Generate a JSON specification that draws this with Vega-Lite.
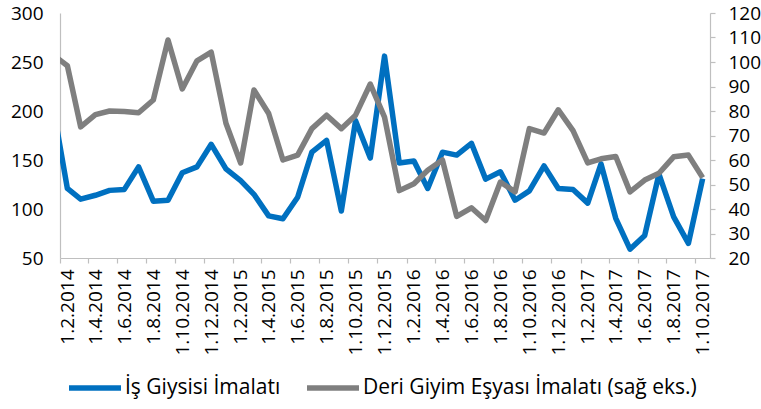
{
  "$schema": "https://vega.github.io/schema/vega-lite/v6.json",
  "width": 650,
  "height": 245,
  "autosize": "none",
  "padding": {"left": 60, "top": 13, "right": 51, "bottom": 151},
  "background": "white",
  "config": {
    "view": {"stroke": null},
    "font": "Open Sans",
    "axis": {"labelFont": "Open Sans", "labelColor": "#000000", "domainColor": "#BFBFBF", "tickColor": "#BFBFBF", "grid": false, "title": null, "labelFontSize": 19, "domainWidth": 1.2, "tickWidth": 1.2}
  },
  "data": {"values": [
    {"date": "2014-01-01", "is": 207, "deri": 103},
    {"date": "2014-02-01", "is": 121, "deri": 98.5},
    {"date": "2014-03-01", "is": 110, "deri": 73.5},
    {"date": "2014-04-01", "is": 114, "deri": 78.5},
    {"date": "2014-05-01", "is": 119, "deri": 80},
    {"date": "2014-06-01", "is": 120, "deri": 79.8},
    {"date": "2014-07-01", "is": 143, "deri": 79.3},
    {"date": "2014-08-01", "is": 108, "deri": 84.5},
    {"date": "2014-09-01", "is": 109, "deri": 109},
    {"date": "2014-10-01", "is": 137, "deri": 89},
    {"date": "2014-11-01", "is": 143, "deri": 100.5},
    {"date": "2014-12-01", "is": 166, "deri": 104},
    {"date": "2015-01-01", "is": 141, "deri": 75},
    {"date": "2015-02-01", "is": 129, "deri": 58.8},
    {"date": "2015-03-01", "is": 115, "deri": 88.6},
    {"date": "2015-04-01", "is": 93, "deri": 79},
    {"date": "2015-05-01", "is": 90, "deri": 60},
    {"date": "2015-06-01", "is": 112, "deri": 62},
    {"date": "2015-07-01", "is": 158, "deri": 72.8},
    {"date": "2015-08-01", "is": 170, "deri": 78.3},
    {"date": "2015-09-01", "is": 98, "deri": 72.8},
    {"date": "2015-10-01", "is": 190, "deri": 78.3},
    {"date": "2015-11-01", "is": 152, "deri": 91},
    {"date": "2015-12-01", "is": 256, "deri": 77.5},
    {"date": "2016-01-01", "is": 147, "deri": 47.5},
    {"date": "2016-02-01", "is": 149, "deri": 50.3},
    {"date": "2016-03-01", "is": 121, "deri": 55.8},
    {"date": "2016-04-01", "is": 158, "deri": 60},
    {"date": "2016-05-01", "is": 155, "deri": 37},
    {"date": "2016-06-01", "is": 167, "deri": 40.5},
    {"date": "2016-07-01", "is": 130.5, "deri": 35.3},
    {"date": "2016-08-01", "is": 138, "deri": 51},
    {"date": "2016-09-01", "is": 109, "deri": 47},
    {"date": "2016-10-01", "is": 118.5, "deri": 72.8},
    {"date": "2016-11-01", "is": 144, "deri": 71},
    {"date": "2016-12-01", "is": 121, "deri": 80.5},
    {"date": "2017-01-01", "is": 120, "deri": 72},
    {"date": "2017-02-01", "is": 106, "deri": 58.8},
    {"date": "2017-03-01", "is": 146, "deri": 60.5},
    {"date": "2017-04-01", "is": 90.5, "deri": 61.4},
    {"date": "2017-05-01", "is": 59, "deri": 47},
    {"date": "2017-06-01", "is": 73, "deri": 51.8},
    {"date": "2017-07-01", "is": 135.5, "deri": 54.6},
    {"date": "2017-08-01", "is": 92, "deri": 61.3},
    {"date": "2017-09-01", "is": 65, "deri": 62},
    {"date": "2017-10-01", "is": 131, "deri": 52.8}
  ]},
  "encoding": {
    "x": {
      "field": "date",
      "type": "temporal",
      "scale": {"type": "utc", "domain": [{"year": 2014, "month": 1, "date": 16, "hours": 12, "utc": true}, {"year": 2017, "month": 10, "date": 16, "hours": 12, "utc": true}]},
      "axis": {
        "values": [
          {"year": 2014, "month": 2, "date": 1, "utc": true},
          {"year": 2014, "month": 4, "date": 1, "utc": true},
          {"year": 2014, "month": 6, "date": 1, "utc": true},
          {"year": 2014, "month": 8, "date": 1, "utc": true},
          {"year": 2014, "month": 10, "date": 1, "utc": true},
          {"year": 2014, "month": 12, "date": 1, "utc": true},
          {"year": 2015, "month": 2, "date": 1, "utc": true},
          {"year": 2015, "month": 4, "date": 1, "utc": true},
          {"year": 2015, "month": 6, "date": 1, "utc": true},
          {"year": 2015, "month": 8, "date": 1, "utc": true},
          {"year": 2015, "month": 10, "date": 1, "utc": true},
          {"year": 2015, "month": 12, "date": 1, "utc": true},
          {"year": 2016, "month": 2, "date": 1, "utc": true},
          {"year": 2016, "month": 4, "date": 1, "utc": true},
          {"year": 2016, "month": 6, "date": 1, "utc": true},
          {"year": 2016, "month": 8, "date": 1, "utc": true},
          {"year": 2016, "month": 10, "date": 1, "utc": true},
          {"year": 2016, "month": 12, "date": 1, "utc": true},
          {"year": 2017, "month": 2, "date": 1, "utc": true},
          {"year": 2017, "month": 4, "date": 1, "utc": true},
          {"year": 2017, "month": 6, "date": 1, "utc": true},
          {"year": 2017, "month": 8, "date": 1, "utc": true},
          {"year": 2017, "month": 10, "date": 1, "utc": true}
        ],
        "format": "%-d.%-m.%Y",
        "labelAngle": -90,
        "labelOverlap": false,
        "labelBound": false,
        "labelFlush": false,
        "tickSize": 5,
        "tickOffset": -7.2,
        "labelOffset": 7.2,
        "labelPadding": 6
      }
    }
  },
  "layer": [
    {
      "mark": {"type": "line", "clip": true, "strokeWidth": 5.5, "strokeJoin": "round"},
      "encoding": {
        "y": {"field": "is", "type": "quantitative", "scale": {"domain": [50, 300], "nice": false, "zero": false}, "axis": {"orient": "left", "values": [50, 100, 150, 200, 250, 300], "tickSize": 0, "labelPadding": 17}},
        "color": {
          "datum": "İş Giysisi İmalatı",
          "type": "nominal",
          "scale": {"domain": ["İş Giysisi İmalatı", "Deri Giyim Eşyası İmalatı (sağ eks.)"], "range": ["#0070C0", "#7F7F7F"]},
          "legend": {"orient": "none", "legendX": 6, "legendY": 346, "direction": "horizontal", "title": null, "symbolType": "stroke", "symbolSize": 2704, "symbolStrokeWidth": 5.5, "labelFontSize": 21, "labelFont": "Open Sans", "labelColor": "#000000", "labelLimit": 600, "columnPadding": 15, "labelOffset": 1, "padding": 0}
        }
      }
    },
    {
      "mark": {"type": "line", "clip": true, "strokeWidth": 5.5, "strokeJoin": "round"},
      "encoding": {
        "y": {"field": "deri", "type": "quantitative", "scale": {"domain": [20, 120], "nice": false, "zero": false}, "axis": {"orient": "right", "values": [20, 30, 40, 50, 60, 70, 80, 90, 100, 110, 120], "tickSize": 5, "labelPadding": 13}},
        "color": {"datum": "Deri Giyim Eşyası İmalatı (sağ eks.)", "type": "nominal"}
      }
    }
  ],
  "resolve": {"scale": {"y": "independent"}}
}
